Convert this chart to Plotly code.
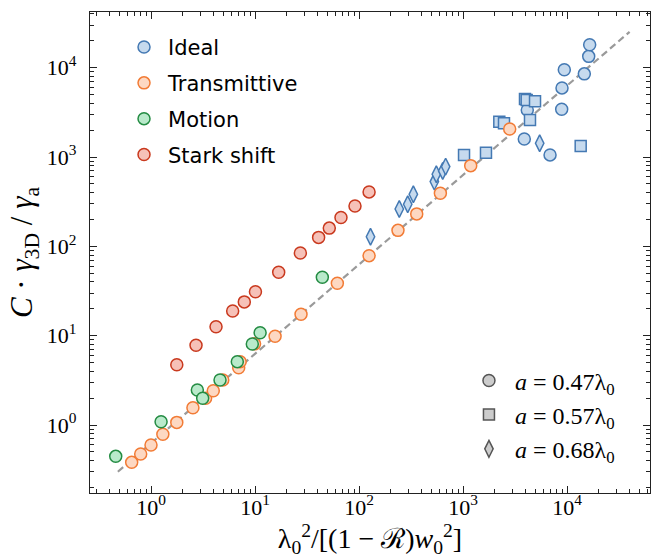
import plotly.graph_objects as go

# ---------------- data ----------------
ideal_circle_x = [4150, 3884, 6870, 8890, 8950, 9420, 14670, 16170, 16520]
ideal_circle_y = [3367, 1595, 1056, 3430, 5940, 9470, 8530, 13390, 18100]
ideal_square_x = [1023, 1663, 2234, 2478, 3945, 4095, 4925, 4406, 13540]
ideal_square_y = [1056, 1120, 2490, 2389, 4456, 4345, 4203, 2603, 1331]
ideal_diamond_x = [129, 244, 294, 333, 530, 554, 638, 681, 5460]
ideal_diamond_y = [128, 262, 296, 383, 531, 642, 699, 781, 1426]
trans_x = [0.652, 0.796, 1.0, 1.30, 1.77, 2.53, 3.35, 3.97, 4.90, 6.97, 7.2,
           9.9, 15.6, 27.7, 61.9, 125, 237, 359, 606, 1186, 2812]
trans_y = [0.382, 0.473, 0.597, 0.787, 1.07, 1.56, 1.99, 2.42, 3.19, 4.38, 5.12,
           8.1, 9.84, 17.4, 38.6, 78.7, 151, 231, 393, 801, 2056]
motion_x = [0.458, 1.25, 2.79, 3.14, 4.61, 6.76, 9.42, 11.2, 44.4]
motion_y = [0.446, 1.09, 2.47, 1.99, 3.19, 5.12, 8.07, 10.8, 45.1]
stark_x = [1.77, 2.71, 4.22, 6.10, 7.89, 10.1, 16.9, 27.3, 40.9, 51.8, 67.1, 91.5, 125]
stark_y = [4.73, 7.8, 12.6, 18.9, 23.9, 31.1, 51.3, 84.4, 126, 160, 210, 283, 407]
fit_x = [0.48, 40000]
fit_y = [0.30, 25200]

series_names = ["Ideal", "Transmittive", "Motion", "Stark shift"]
spacing_names = ["<i>a</i> = 0.47λ<sub>0</sub>", "<i>a</i> = 0.57λ<sub>0</sub>",
                 "<i>a</i> = 0.68λ<sub>0</sub>"]
tick_vals = [1, 10, 100, 1000, 10000]
tick_text = ["10<sup>0</sup>", "10<sup>1</sup>", "10<sup>2</sup>", "10<sup>3</sup>", "10<sup>4</sup>"]

# ---------------- styles ----------------
BLUE = ("#c6daee", "#4479b3")
ORANGE = ("#fdd8c2", "#f27b35")
GREEN = ("#b9eacb", "#248c43")
RED = ("#f6c1b8", "#c9391e")
GREY = ("#cccccc", "#555555")
SERIF = "Liberation Serif, DejaVu Serif, serif"
SANS = "DejaVu Sans, sans-serif"


def mk(symbol, colors, size=12):
    return dict(symbol=symbol, size=size, color=colors[0],
                line=dict(color=colors[1], width=1.5))


fig = go.Figure()
fig.add_trace(go.Scatter(x=fit_x, y=fit_y, mode="lines", showlegend=False,
                         line=dict(color="#9a9a9a", width=2.2, dash="7px,4px"),
                         hoverinfo="skip"))
fig.add_trace(go.Scatter(x=ideal_circle_x, y=ideal_circle_y, mode="markers",
                         name=series_names[0], legendgroup="g1",
                         marker=mk("circle", BLUE)))
fig.add_trace(go.Scatter(x=ideal_square_x, y=ideal_square_y, mode="markers",
                         showlegend=False, marker=mk("square", BLUE, 11)))
fig.add_trace(go.Scatter(x=ideal_diamond_x, y=ideal_diamond_y, mode="markers",
                         showlegend=False, marker=mk("diamond-tall", BLUE, 12)))
fig.add_trace(go.Scatter(x=trans_x, y=trans_y, mode="markers",
                         name=series_names[1], legendgroup="g2",
                         marker=mk("circle", ORANGE)))
fig.add_trace(go.Scatter(x=motion_x, y=motion_y, mode="markers",
                         name=series_names[2], legendgroup="g3",
                         marker=mk("circle", GREEN)))
fig.add_trace(go.Scatter(x=stark_x, y=stark_y, mode="markers",
                         name=series_names[3], legendgroup="g4",
                         marker=mk("circle", RED)))
for i, (sym, sz) in enumerate([("circle", 12), ("square", 11), ("diamond-tall", 12)]):
    fig.add_trace(go.Scatter(x=[None], y=[None], mode="markers", name=spacing_names[i],
                             legend="legend2", legendgroup=f"h{i}",
                             marker=mk(sym, GREY, sz)))

minor_vals = [m * 10 ** k for k in range(-1, 5) for m in range(2, 10)]

axis_common = dict(
    type="log", showgrid=False, zeroline=False, showline=True,
    linecolor="#222222", linewidth=1.3, mirror="ticks",
    ticks="inside", ticklen=7, tickwidth=1.2, tickcolor="#222222",
    tickmode="array", tickvals=tick_vals, ticktext=tick_text,
    tickfont=dict(family=SERIF, size=22, color="black"),
    minor=dict(ticks="inside", ticklen=4, tickwidth=1, tickcolor="#222222",
               tickmode="array", tickvals=minor_vals, showgrid=False),
)

fig.update_xaxes(**axis_common, range=[-0.5865, 4.798], ticklabelstandoff=-6,
                 title=dict(text="λ<sub>0</sub><sup>2</sup>/[(1 − ℛ)<i>w</i><sub>0</sub><sup>2</sup>]",
                            font=dict(family=SERIF, size=28, color="black"), standoff=8))
fig.update_yaxes(**axis_common, range=[-0.761, 4.6235], ticklabelstandoff=8,
                 title=dict(text="<i>C</i> · <i>γ</i><sub>3D</sub> / <i>γ</i><sub>a</sub>",
                            font=dict(family=SERIF, size=31, color="black"), standoff=4))

fig.update_layout(
    width=652, height=560,
    margin=dict(l=90, r=2, t=12, b=67),
    plot_bgcolor="white", paper_bgcolor="white",
    legend=dict(x=0.0536, y=0.969, xanchor="left", yanchor="top",
                font=dict(family=SANS, size=21, color="black"), itemwidth=38,
                bgcolor="rgba(0,0,0,0)", tracegroupgap=5.5, traceorder="grouped"),
    legend2=dict(x=0.666, y=0.28, xanchor="left", yanchor="top",
                 font=dict(family=SERIF, size=24, color="black"), itemwidth=42,
                 bgcolor="rgba(0,0,0,0)", traceorder="normal"),
)

fig.write_html("out.html")
